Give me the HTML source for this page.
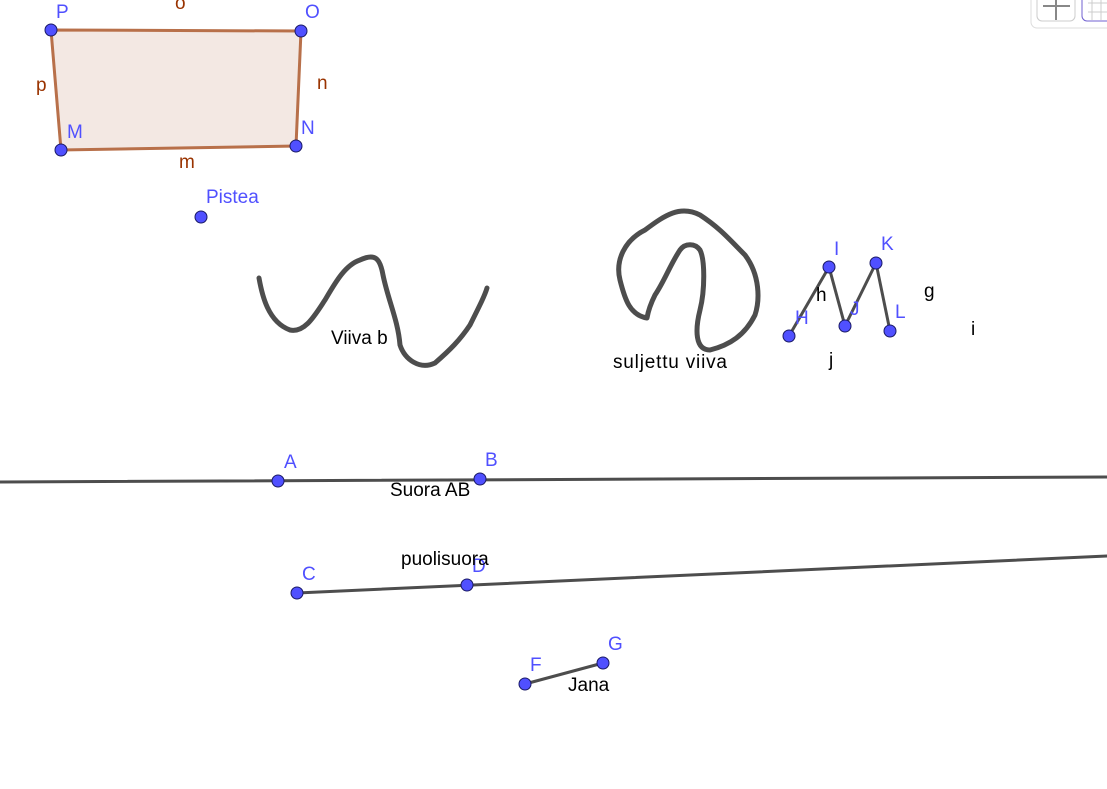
<!DOCTYPE html>
<html><head><style>
html,body{margin:0;padding:0;background:#fff;width:1107px;height:789px;overflow:hidden}
svg text{font-family:"Liberation Sans",sans-serif;font-size:19px}
.b{fill:#5050ff}.k{fill:#000}.r{fill:#993300}
</style></head><body>
<svg width="1107" height="789" viewBox="0 0 1107 789">
<rect x="1031" y="-10" width="90" height="38" rx="6" fill="#fff" stroke="#ddd"/>
<rect x="1037" y="-8" width="38" height="29" rx="5" fill="#fff" stroke="#ccc"/>
<line x1="1043" y1="6" x2="1070" y2="6" stroke="#888" stroke-width="2"/>
<line x1="1056" y1="-5" x2="1056" y2="20" stroke="#888" stroke-width="2"/>
<rect x="1082" y="-8" width="40" height="29" rx="5" fill="#fff" stroke="#7060d0"/>
<g stroke="#ccc"><line x1="1088" y1="3" x2="1107" y2="3"/><line x1="1088" y1="12" x2="1107" y2="12"/><line x1="1092" y1="-5" x2="1092" y2="20"/><line x1="1101" y1="-5" x2="1101" y2="20"/></g>

<polygon points="51,30 301,31 296,146 61,150" fill="#f3e8e3" stroke="#b8704a" stroke-width="3"/>
<text x="175" y="9" class="r">o</text><text x="36" y="91" class="r">p</text><text x="317" y="89" class="r">n</text><text x="179" y="168" class="r">m</text>
<text x="56" y="18" class="b">P</text><text x="305" y="18" class="b">O</text><text x="67" y="138" class="b">M</text><text x="301" y="134" class="b">N</text>
<text x="206" y="203" class="b">Pistea</text>

<g fill="none" stroke="#4d4d4d" stroke-width="5" stroke-linecap="round" stroke-linejoin="round">
<path d="M259,278 C262,295 268,322 290,330 C305,333 315,315 325,300 C335,283 345,265 360,260 C375,253 380,258 383,275 C388,300 398,320 400,345 C405,360 420,370 435,363 C450,350 460,340 470,325 C480,305 485,295 487,288"/>
<path d="M647,318 C630,315 625,300 620,280 C615,260 625,240 645,230 C665,215 680,205 700,215 C720,228 730,240 745,255 C760,275 760,300 755,315 C745,335 730,345 710,350 C695,350 695,330 700,310 C705,290 705,260 700,250 C695,243 685,243 680,250 C670,265 665,280 655,295 C650,305 648,312 647,318"/>
<path d="M789,336 L829,267 L845,326 L876,263 L890,331" stroke-width="3"/>
<line x1="0" y1="482" x2="1107" y2="477" stroke-width="3"/>
<line x1="297" y1="593" x2="1107" y2="556" stroke-width="3"/>
<line x1="525" y1="684" x2="603" y2="663" stroke-width="3"/>
</g>

<g class="b" stroke="#1a1a66" stroke-width="1">
<circle cx="51" cy="30" r="6"/><circle cx="301" cy="31" r="6"/><circle cx="296" cy="146" r="6"/><circle cx="61" cy="150" r="6"/>
<circle cx="201" cy="217" r="6"/>
<circle cx="789" cy="336" r="6"/><circle cx="829" cy="267" r="6"/><circle cx="845" cy="326" r="6"/><circle cx="876" cy="263" r="6"/><circle cx="890" cy="331" r="6"/>
<circle cx="278" cy="481" r="6"/><circle cx="480" cy="479" r="6"/>
<circle cx="297" cy="593" r="6"/><circle cx="467" cy="585" r="6"/>
<circle cx="525" cy="684" r="6"/><circle cx="603" cy="663" r="6"/>
</g>

<text x="331" y="344" class="k">Viiva b</text>
<text x="613" y="368" class="k" textLength="114">suljettu viiva</text>
<text x="816" y="301" class="k">h</text><text x="924" y="297" class="k">g</text><text x="971" y="335" class="k">i</text><text x="829" y="366" class="k">j</text>
<text x="834" y="255" class="b">I</text><text x="881" y="250" class="b">K</text><text x="795" y="324" class="b">H</text><text x="850" y="315" class="b">J</text><text x="895" y="318" class="b">L</text>
<text x="284" y="468" class="b">A</text><text x="485" y="466" class="b">B</text>
<text x="390" y="496" class="k">Suora AB</text>
<text x="302" y="580" class="b">C</text><text x="472" y="572" class="b">D</text>
<text x="401" y="565" class="k">puolisuora</text>
<text x="530" y="671" class="b">F</text><text x="608" y="650" class="b">G</text>
<text x="568" y="691" class="k">Jana</text>
</svg>
</body></html>
